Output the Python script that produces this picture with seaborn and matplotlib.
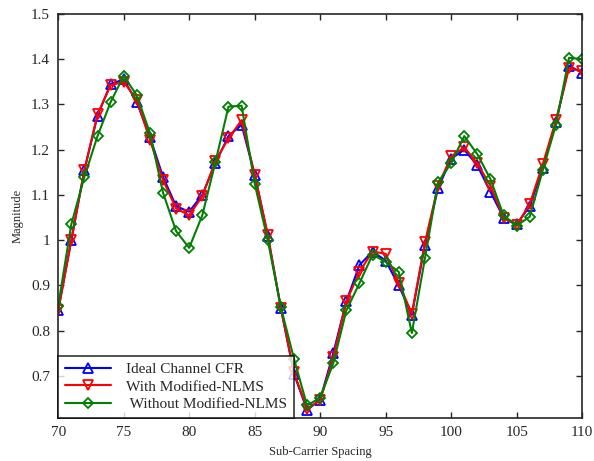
import numpy as np
import pandas as pd
import matplotlib
matplotlib.use("Agg")
import matplotlib.pyplot as plt
import seaborn as sns

subcarrier = list(range(70, 111))

ideal_cfr = [0.845, 1.000, 1.155, 1.275, 1.345, 1.355, 1.305, 1.228, 1.140, 1.075,
             1.063, 1.100, 1.170, 1.230, 1.255, 1.145, 1.010, 0.850, 0.705, 0.625,
             0.648, 0.750, 0.865, 0.945, 0.975, 0.955, 0.900, 0.835, 0.990, 1.115,
             1.180, 1.200, 1.165, 1.107, 1.050, 1.035, 1.075, 1.160, 1.260, 1.385,
             1.370]
with_nlms = [0.845, 1.000, 1.155, 1.278, 1.342, 1.350, 1.310, 1.222, 1.133, 1.070,
             1.055, 1.097, 1.175, 1.225, 1.265, 1.145, 1.012, 0.850, 0.708, 0.628,
             0.646, 0.742, 0.865, 0.930, 0.975, 0.970, 0.905, 0.838, 0.995, 1.120,
             1.185, 1.205, 1.170, 1.120, 1.050, 1.033, 1.080, 1.168, 1.265, 1.380,
             1.373]
without_nlms = [0.855, 1.035, 1.140, 1.230, 1.305, 1.363, 1.320, 1.237, 1.105, 1.020,
                0.983, 1.055, 1.172, 1.295, 1.297, 1.125, 1.000, 0.852, 0.738, 0.635,
                0.652, 0.728, 0.845, 0.905, 0.968, 0.952, 0.930, 0.795, 0.960, 1.128,
                1.170, 1.230, 1.190, 1.135, 1.055, 1.032, 1.052, 1.155, 1.255, 1.403,
                1.400]

series = [
    ("Ideal Channel CFR", ideal_cfr, "blue", "^"),
    ("With Modified-NLMS", with_nlms, "red", "v"),
    (" Without Modified-NLMS", without_nlms, "green", "D"),
]

sns.set_style("ticks")
plt.rcParams['font.family'] = ['Liberation Serif', 'DejaVu Serif']

fig = plt.figure(figsize=(5.94, 4.61), dpi=100)
ax = fig.add_axes([0.098, 0.093, 0.882, 0.877])

for name, vals, col, mk in series:
    df = pd.DataFrame({"x": subcarrier, "y": vals})
    ms = 5 if mk == "D" else 6.5
    sns.lineplot(data=df, x="x", y="y", ax=ax, color=col, marker=mk,
                 markersize=ms, markerfacecolor="none", markeredgecolor=col,
                 markeredgewidth=1.3, linewidth=1.5, label=name)

ax.set_xlim(70, 110)
ax.set_ylim(0.607, 1.5)
ax.set_xticks(range(70, 111, 5))
ax.set_yticks([0.7, 0.8, 0.9, 1.0, 1.1, 1.2, 1.3, 1.4, 1.5])
ax.set_yticklabels(["0.7", "0.8", "0.9", "1", "1.1", "1.2", "1.3", "1.4", "1.5"])
ax.tick_params(direction="in", top=True, right=True, labelsize=11, length=4,
               width=1, pad=6)
for s in ax.spines.values():
    s.set_linewidth(1.2)
    s.set_visible(True)

ax.set_xlabel("Sub-Carrier Spacing", fontsize=9, labelpad=5)
ax.set_ylabel("Magnitude", fontsize=9, labelpad=5)

leg = ax.legend(loc="lower left", borderaxespad=0, fontsize=11, frameon=True,
                fancybox=False, edgecolor="black", handlelength=3.0,
                borderpad=0.45, labelspacing=0.25, handletextpad=1.0)
leg.get_frame().set_linewidth(1.2)

fig.savefig("out.png", dpi=100)
